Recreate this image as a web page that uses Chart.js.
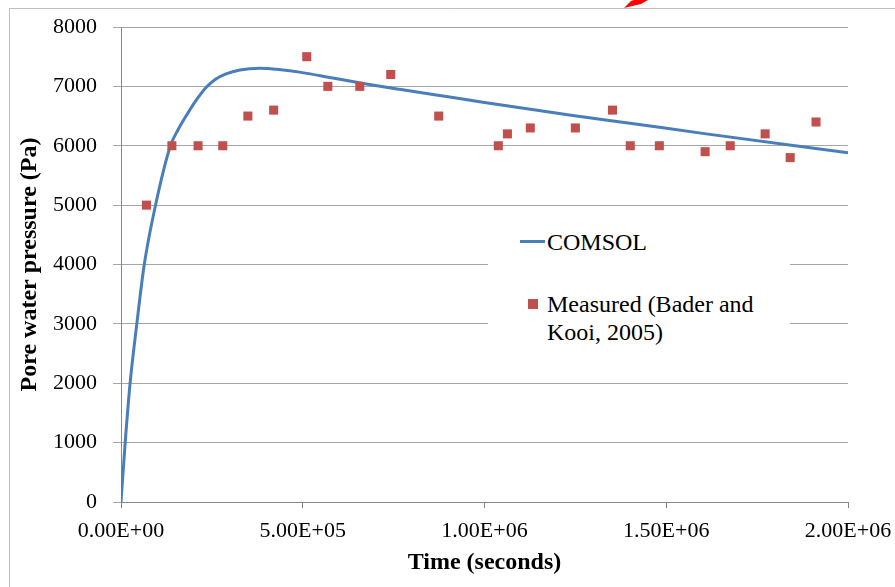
<!DOCTYPE html>
<html><head><meta charset="utf-8">
<script src="https://cdn.jsdelivr.net/npm/chart.js@4/dist/chart.umd.min.js"></script>
<style>
html,body{margin:0;padding:0;background:#fff;}
#wrap{position:relative;width:895px;height:587px;overflow:hidden;}
#c{position:absolute;left:0;top:0;}
#legend{position:absolute;left:488px;top:212px;width:302px;height:150px;background:#fff;font-family:"Liberation Serif","Times New Roman",serif;font-size:24px;color:#000;}
#legend .ln{position:absolute;left:32px;top:28px;width:25px;height:3px;background:#4a7ebb;}
#legend .mk{position:absolute;left:40px;top:87px;width:10px;height:10px;background:#c0504d;}
#legend .t1{position:absolute;left:59px;top:15.75px;line-height:28.3px;white-space:nowrap;}
#legend .t2{position:absolute;left:59px;top:77.5px;line-height:28.3px;white-space:nowrap;}
</style>
</head><body>
<div id="wrap">
<canvas id="c" width="895" height="587"></canvas>
<div id="legend">
  <div class="ln"></div><div class="t1">COMSOL</div>
  <div class="mk"></div><div class="t2">Measured (Bader and<br>Kooi, 2005)</div>
</div>
</div>
<script>
// COMSOL simulated curve (time in s, pressure in Pa)
const comsolTime = [0, 11500, 25000, 43500, 64000, 95000, 136000, 157000, 179000, 205000, 234000, 260000, 289000, 327000, 381000, 440000, 491000, 583000, 675000, 766000, 904000, 1000000, 1243000, 1400000, 1610000, 2000000];
const comsolPressure = [0, 1000, 2000, 3000, 4000, 5000, 6000, 6270, 6500, 6750, 6980, 7120, 7210, 7275, 7305, 7280, 7240, 7140, 7040, 6950, 6820, 6730, 6510, 6380, 6200, 5880];

// Measured data (Bader and Kooi, 2005)
const measuredTime = [70000, 140000, 212000, 280000, 349000, 420000, 511000, 569000, 657000, 742000, 874000, 1038000, 1063000, 1126000, 1250000, 1352000, 1401000, 1481000, 1607000, 1676000, 1772000, 1841000, 1912000];
const measuredPressure = [5000, 6000, 6000, 6000, 6500, 6600, 7500, 7000, 7000, 7200, 6500, 6000, 6200, 6300, 6300, 6600, 6000, 6000, 5900, 6000, 6200, 5800, 6400];

// Axis ticks
const xTickValues = [0, 500000, 1000000, 1500000, 2000000];
const xTickLabels = ['0.00E+00', '5.00E+05', '1.00E+06', '1.50E+06', '2.00E+06'];
const yTickValues = [0, 1000, 2000, 3000, 4000, 5000, 6000, 7000, 8000];
const yTickLabels = ['0', '1000', '2000', '3000', '4000', '5000', '6000', '7000', '8000'];

const serif = '"Liberation Serif", "Times New Roman", serif';

const decor = {
  id: 'decor',
  beforeDraw(chart) {
    const ctx = chart.ctx;
    ctx.save();
    ctx.strokeStyle = '#bfbfbf';
    ctx.lineWidth = 1;
    ctx.beginPath();
    ctx.moveTo(9.5, 587);
    ctx.lineTo(9.5, 8.5);
    ctx.lineTo(895, 8.5);
    ctx.stroke();
    ctx.restore();
  },
  afterDraw(chart) {
    const ctx = chart.ctx;
    ctx.save();
    ctx.fillStyle = '#ff0000';
    ctx.beginPath();
    ctx.moveTo(624, 8);
    ctx.lineTo(631, 1);
    ctx.lineTo(634, 0);
    ctx.lineTo(648, 0);
    ctx.lineTo(641, 4);
    ctx.closePath();
    ctx.fill();
    ctx.restore();
  }
};

new Chart(document.getElementById('c'), {
  type: 'scatter',
  data: {
    datasets: [
      {
        label: 'Measured (Bader and Kooi, 2005)',
        data: measuredTime.map((t, i) => ({x: t, y: measuredPressure[i]})),
        pointStyle: 'rect',
        pointRadius: 6.4,
        pointBackgroundColor: '#c0504d',
        pointBorderWidth: 0,
        showLine: false,
        order: 0
      },
      {
        label: 'COMSOL',
        data: comsolTime.map((t, i) => ({x: t, y: comsolPressure[i]})),
        showLine: true,
        borderColor: '#4a7ebb',
        borderWidth: 3,
        pointRadius: 0,
        cubicInterpolationMode: 'monotone',
        order: 1
      }
    ]
  },
  options: {
    responsive: false,
    animation: false,
    devicePixelRatio: 1,
    layout: {padding: {left: 0, top: 27, right: 47, bottom: 0}},
    plugins: {legend: {display: false}, tooltip: {enabled: false}},
    scales: {
      x: {
        type: 'linear', min: 0, max: 2000000,
        afterBuildTicks(s) { s.ticks = xTickValues.map(v => ({value: v})); },
        afterFit(s) { s.height = 85; s.paddingLeft = 0; s.paddingRight = 0; },
        ticks: {
          callback: (v) => xTickLabels[xTickValues.indexOf(v)],
          font: {family: serif, size: 22}, color: '#000', padding: 10, maxRotation: 0, autoSkip: false
        },
        grid: {drawOnChartArea: false, drawTicks: true, tickLength: 6, tickColor: '#868686'},
        border: {display: true, color: '#868686', width: 1},
        title: {display: true, text: 'Time (seconds)', font: {family: serif, size: 24, weight: 'bold'}, color: '#000', padding: {top: 0, bottom: 9.6}}
      },
      y: {
        type: 'linear', min: 0, max: 8000,
        afterBuildTicks(s) { s.ticks = yTickValues.map(v => ({value: v})); },
        afterFit(s) { s.width = 121; s.paddingTop = 0; s.paddingBottom = 0; },
        ticks: {
          callback: (v) => yTickLabels[yTickValues.indexOf(v)],
          font: {family: serif, size: 22}, color: '#000', padding: 16, autoSkip: false
        },
        grid: {color: '#a6a6a6', lineWidth: 1, drawTicks: true, tickLength: 8, tickColor: '#a6a6a6'},
        border: {display: true, color: '#868686', width: 1},
        title: {display: true, text: 'Pore water pressure (Pa)', font: {family: serif, size: 24, weight: 'bold'}, color: '#000', padding: {top: 15.6, bottom: 0}}
      }
    }
  },
  plugins: [decor]
});
</script>
</body></html>
